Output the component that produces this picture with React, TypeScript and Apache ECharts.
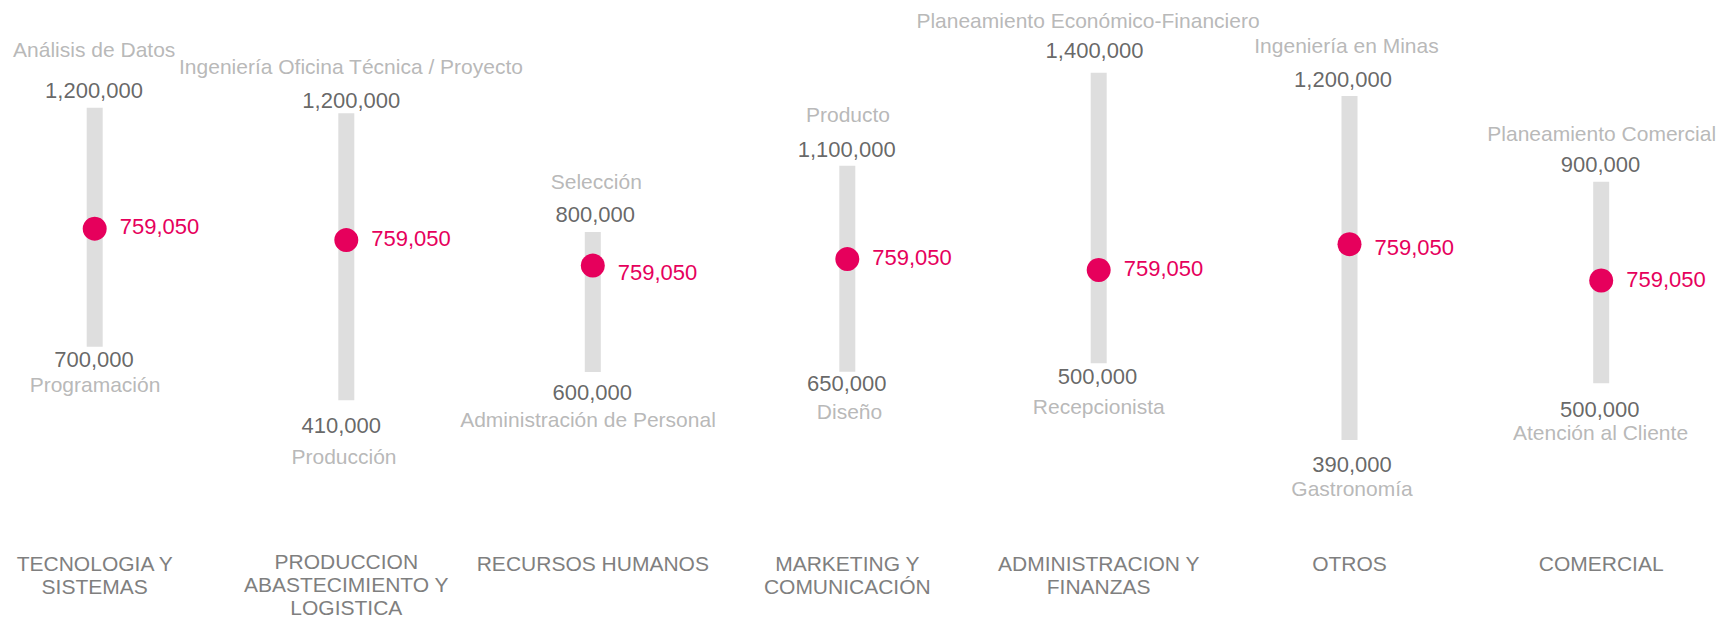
import React, { useEffect, useRef } from 'react';
import * as echarts from 'echarts';

// ---------- data ----------
const categories = [
  'TECNOLOGIA Y\nSISTEMAS',
  'PRODUCCION\nABASTECIMIENTO Y\nLOGISTICA',
  'RECURSOS HUMANOS',
  'MARKETING Y\nCOMUNICACIÓN',
  'ADMINISTRACION Y\nFINANZAS',
  'OTROS',
  'COMERCIAL',
];
const maxSalary = [1200000, 1200000, 800000, 1100000, 1400000, 1200000, 900000];
const minSalary = [700000, 410000, 600000, 650000, 500000, 390000, 500000];
const maxRole = [
  'Análisis de Datos',
  'Ingeniería Oficina Técnica / Proyecto',
  'Selección',
  'Producto',
  'Planeamiento Económico-Financiero',
  'Ingeniería en Minas',
  'Planeamiento Comercial',
];
const minRole = [
  'Programación',
  'Producción',
  'Administración de Personal',
  'Diseño',
  'Recepcionista',
  'Gastronomía',
  'Atención al Cliente',
];
const averageSalary = [759050, 759050, 759050, 759050, 759050, 759050, 759050];
// where the marker sits on each column's own scale
const markerPosition = [947000, 851000, 752000, 896000, 789000, 851000, 704000];

// ---------- layout (pixels) ----------
const centerX = [94.7, 346.3, 592.8, 847.3, 1098.7, 1349.5, 1601.2];
const barTop = [107.7, 113.3, 232, 165.7, 72.7, 96, 181.7];
const barBottom = [346.7, 402.3, 372, 371.7, 363.3, 440, 383.3];
const maxLabelOff = [[-0.7, -17], [5, -12.6], [2.5, -17.7], [-0.6, -16.7], [-4.2, -22], [-6.5, -17], [-0.7, -17.7]];
const maxRoleOff = [[-0.5, -58.4], [4.7, -46.6], [3.5, -50.3], [0.7, -51.4], [-10.7, -52.7], [-3, -51], [0.5, -48.4]];
const minLabelOff = [[-0.7, 12.3], [-5, 25.4], [-0.6, 20.7], [-0.6, 11.6], [-1.2, 13.4], [2.5, 24.3], [-1.5, 25.7]];
const minRoleOff = [[0.3, 37.6], [-2.3, 56], [-4.8, 47.3], [2.2, 40], [0.1, 43.4], [2.5, 48.3], [-0.7, 49.4]];
const dotLabelDy = [-2, -1.7, 7, -1.3, -1.7, 3.7, -1.4];
const CAT_LABEL_TOP = 552;

const FONT = '"Liberation Sans", Arial, Helvetica, sans-serif';
const PINK = '#e6005c';
const BAR = '#dedede';
const DARK = '#3f3f3f';
const LIGHT = '#a6a6a6';
const CAT = '#7f7f7f';

const fmt = (v: number) => v.toLocaleString('en-US');

export default function App() {
  const ref = useRef<HTMLDivElement>(null);

  useEffect(() => {
    const chart = echarts.init(ref.current!, null, { renderer: 'svg' });
    const grid: any[] = [];
    const xAxis: any[] = [];
    const yAxis: any[] = [];
    const series: any[] = [];

    const textItem = (cat: string, v: number, text: string, off: number[], size: number, color: string) => ({
      value: [cat, v],
      label: {
        show: true,
        position: 'inside',
        align: 'center',
        verticalAlign: 'middle',
        offset: off,
        fontSize: size,
        color,
        fontFamily: FONT,
        formatter: () => text,
      },
    });

    for (let i = 0; i < categories.length; i++) {
      const cat = categories[i];
      grid.push({
        left: centerX[i] - 60,
        width: 120,
        top: barTop[i],
        height: barBottom[i] - barTop[i],
      });
      xAxis.push({
        type: 'category',
        gridIndex: i,
        data: [cat],
        position: 'bottom',
        offset: CAT_LABEL_TOP - barBottom[i],
        axisLine: { show: false },
        axisTick: { show: false },
        splitLine: { show: false },
        axisLabel: {
          interval: 0,
          margin: 0,
          fontSize: 21,
          lineHeight: 23,
          color: CAT,
          fontFamily: FONT,
          verticalAlign: 'top',
        },
      });
      yAxis.push({
        type: 'value',
        gridIndex: i,
        min: minSalary[i],
        max: maxSalary[i],
        show: false,
        splitLine: { show: false },
      });
      // salary range bar
      series.push({
        type: 'line',
        xAxisIndex: i,
        yAxisIndex: i,
        data: [[cat, minSalary[i]], [cat, maxSalary[i]]],
        symbol: 'none',
        silent: true,
        clip: false,
        lineStyle: { width: 16, color: BAR, cap: 'butt', opacity: 1 },
        z: 1,
      });
      // end labels
      series.push({
        type: 'scatter',
        xAxisIndex: i,
        yAxisIndex: i,
        symbolSize: 1,
        silent: true,
        clip: false,
        itemStyle: { color: 'rgba(0,0,0,0)' },
        data: [
          textItem(cat, maxSalary[i], fmt(maxSalary[i]), maxLabelOff[i], 22, DARK),
          textItem(cat, maxSalary[i], maxRole[i], maxRoleOff[i], 21, LIGHT),
          textItem(cat, minSalary[i], fmt(minSalary[i]), minLabelOff[i], 22, DARK),
          textItem(cat, minSalary[i], minRole[i], minRoleOff[i], 21, LIGHT),
        ],
        z: 2,
      });
      // marker
      series.push({
        type: 'scatter',
        xAxisIndex: i,
        yAxisIndex: i,
        symbol: 'circle',
        symbolSize: 24,
        clip: false,
        itemStyle: { color: PINK, opacity: 1 },
        label: {
          show: true,
          position: 'right',
          distance: 13,
          offset: [0, dotLabelDy[i]],
          fontSize: 22,
          color: PINK,
          fontFamily: FONT,
          formatter: () => fmt(averageSalary[i]),
        },
        data: [[cat, markerPosition[i]]],
        z: 3,
      });
    }

    chart.setOption({
      animation: false,
      backgroundColor: '#ffffff',
      textStyle: { fontFamily: FONT },
      grid,
      xAxis,
      yAxis,
      series,
    });
    return () => chart.dispose();
  }, []);

  return (
    <div
      ref={ref}
      style={{ position: 'absolute', left: 0, top: 0, width: 1720, height: 619 }}
    />
  );
}
